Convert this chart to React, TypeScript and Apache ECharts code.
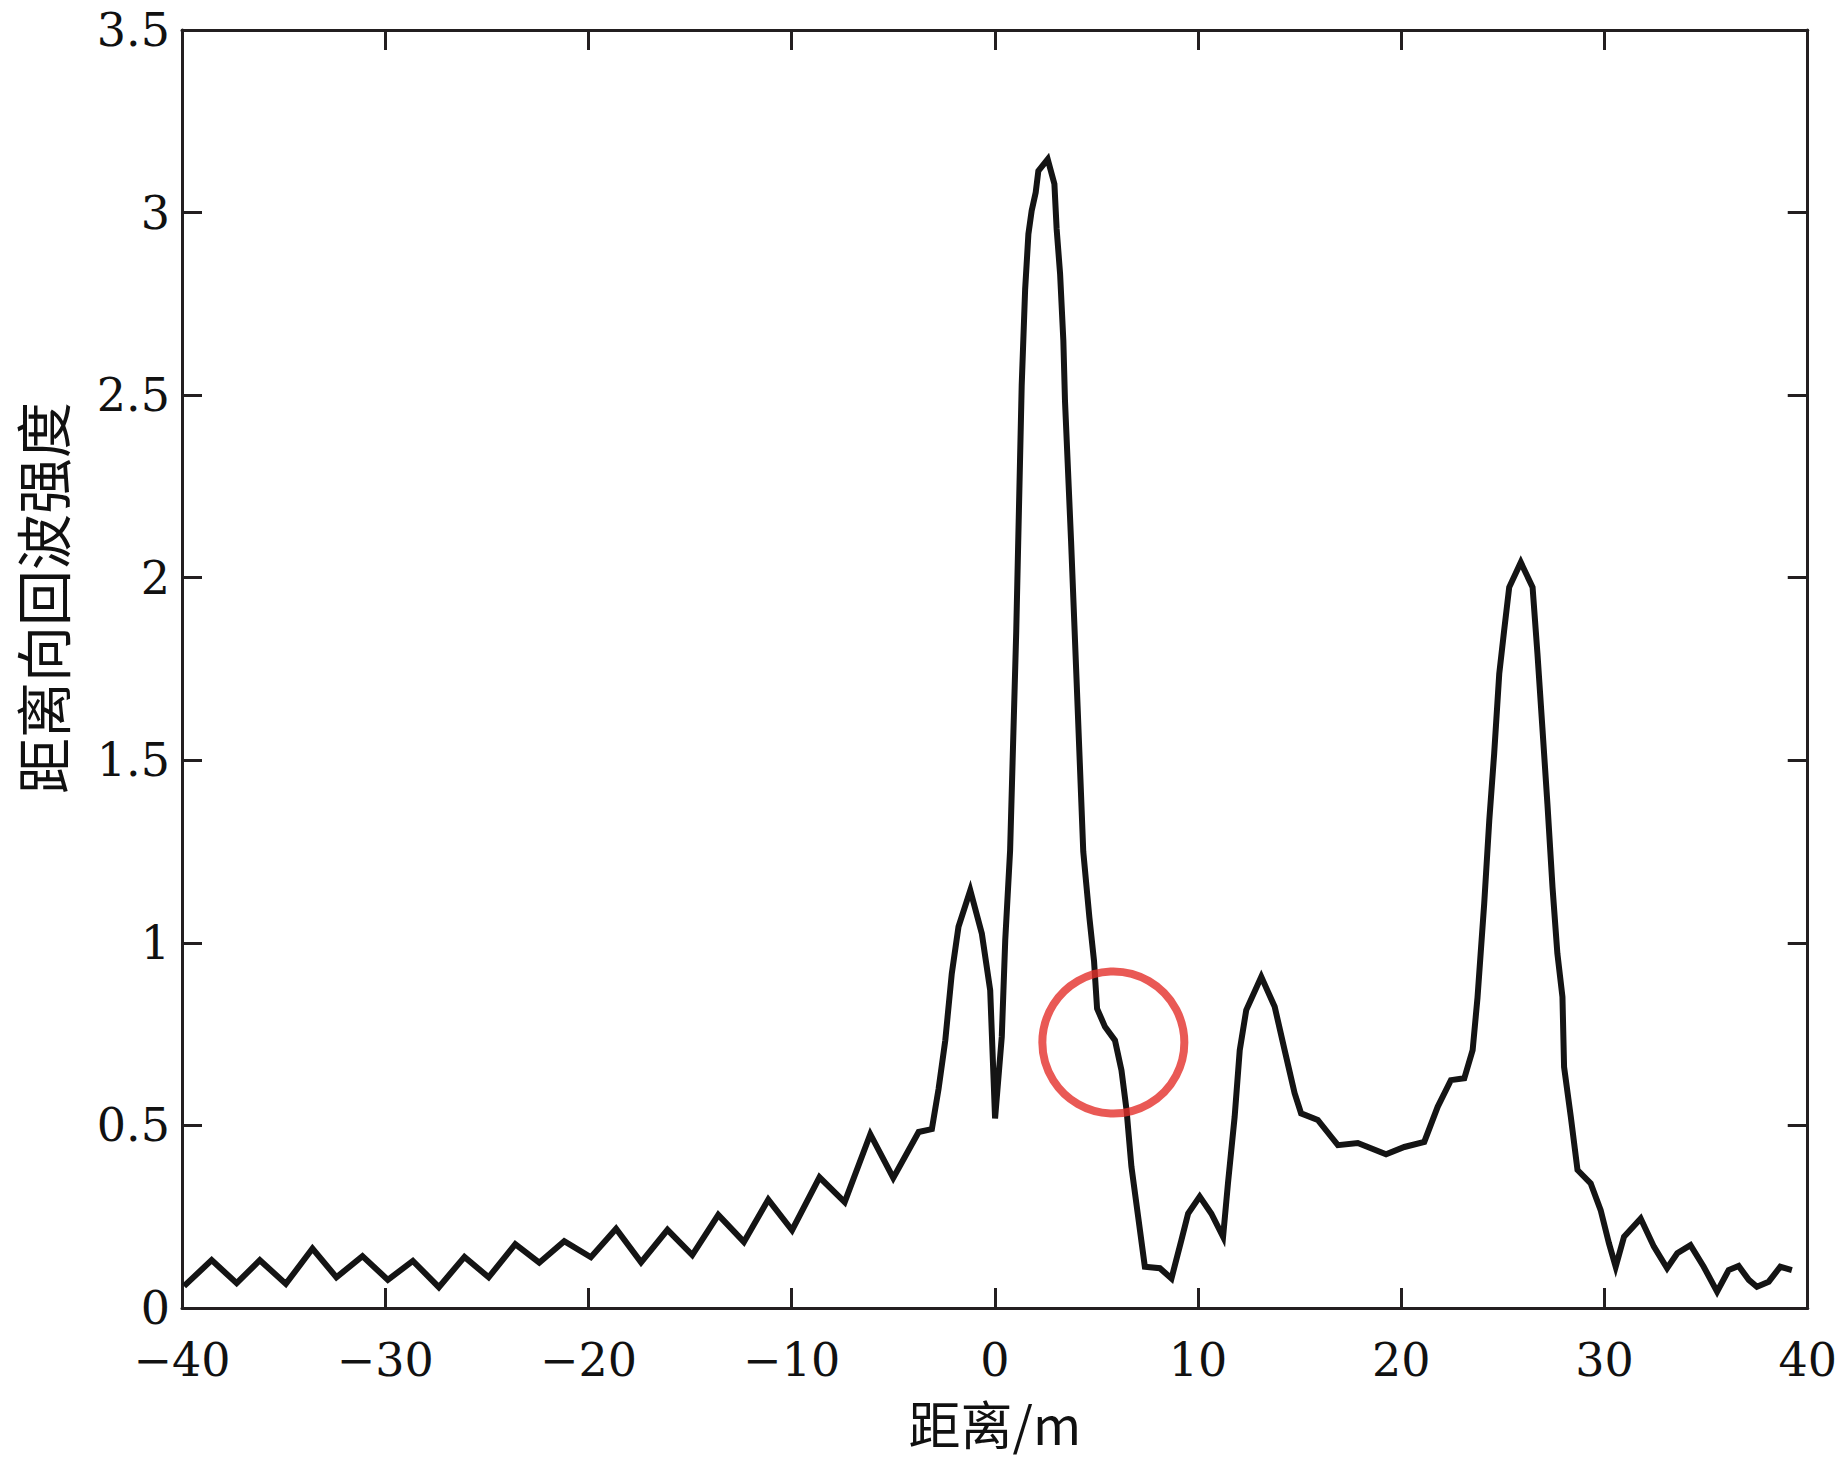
import React, { useEffect, useRef } from "react";
import * as echarts from "echarts";

// Distance (m) along range and echo intensity
const distanceM: number[] = [
  -39.9, -38.54, -37.31, -36.17, -34.89, -33.58, -32.4, -31.12, -29.87, -28.64,
  -27.36, -26.1, -24.91, -23.6, -22.42, -21.19, -19.88, -18.64, -17.41, -16.11,
  -14.89, -13.61, -12.35, -11.15, -9.98, -8.63, -7.39, -6.13, -5.0, -3.75,
  -3.1, -2.77, -2.44, -2.12, -1.79, -1.21, -0.64, -0.23, 0.01, 0.34,
  0.51, 0.75, 1.05, 1.32, 1.49, 1.65, 1.81, 2.01, 2.14, 2.6,
  2.93, 3.04, 3.21, 3.37, 3.45, 3.75, 4.02, 4.35, 4.5, 4.65,
  4.88, 5.03, 5.42, 5.91, 6.23, 6.48, 6.72, 7.05, 7.38, 8.12,
  8.69, 9.18, 9.51, 10.08, 10.65, 11.23, 11.47, 11.8, 12.05, 12.37,
  13.11, 13.77, 14.26, 14.75, 15.07, 15.89, 16.55, 16.88, 17.86, 19.25,
  20.15, 21.13, 21.79, 22.44, 23.1, 23.51, 23.75, 24.08, 24.33, 24.57,
  24.82, 25.06, 25.31, 25.88, 26.46, 26.7, 26.94, 27.19, 27.44, 27.68,
  27.93, 28.01, 28.34, 28.67, 29.32, 29.81, 30.22, 30.55, 30.96, 31.78,
  32.43, 33.08, 33.58, 34.23, 34.88, 35.54, 36.11, 36.6, 37.1, 37.5,
  38.08, 38.65, 39.22,
];

const intensity: number[] = [
  0.06, 0.131, 0.068, 0.131, 0.066, 0.163, 0.084, 0.142, 0.077, 0.129,
  0.057, 0.14, 0.084, 0.175, 0.124, 0.183, 0.139, 0.217, 0.125, 0.214,
  0.145, 0.255, 0.181, 0.297, 0.213, 0.358, 0.29, 0.476, 0.356, 0.482,
  0.49, 0.6, 0.733, 0.916, 1.044, 1.144, 1.025, 0.87, 0.519, 0.743,
  1.007, 1.253, 1.85, 2.526, 2.79, 2.941, 3.005, 3.055, 3.114, 3.146,
  3.078, 2.955, 2.832, 2.649, 2.485, 2.1, 1.72, 1.25, 1.16, 1.07,
  0.95, 0.82, 0.77, 0.733, 0.651, 0.542, 0.387, 0.25, 0.113, 0.109,
  0.081, 0.186, 0.259, 0.305, 0.259, 0.195, 0.341, 0.524, 0.706, 0.816,
  0.907, 0.825, 0.706, 0.588, 0.533, 0.515, 0.469, 0.446, 0.452, 0.421,
  0.441, 0.455, 0.551, 0.624, 0.629, 0.706, 0.85, 1.108, 1.336, 1.518,
  1.737, 1.855, 1.974, 2.042, 1.974, 1.792, 1.591, 1.381, 1.153, 0.971,
  0.852, 0.66, 0.524, 0.378, 0.341, 0.268, 0.177, 0.113, 0.195, 0.245,
  0.168, 0.109, 0.15, 0.172, 0.113, 0.045, 0.104, 0.115, 0.077, 0.058,
  0.072, 0.113, 0.104,
];

// Highlighted spot (red circle annotation) in data coordinates
const highlightPoint: number[] = [5.83, 0.727];

const xRange = { min: -40, max: 40, interval: 10 };
const yRange = { min: 0, max: 3.5, interval: 0.5 };

const xAxisTitle = "距离/m";
const yAxisTitle = "距离向回波强度";

const AXIS_COLOR = "#231f20";
const NUM_FONT = '"DejaVu Serif", "Liberation Serif", serif';
const CJK_FONT = '"Noto Sans CJK SC", sans-serif';

export default function App() {
  const ref = useRef<HTMLDivElement>(null);

  useEffect(() => {
    if (!ref.current) return;
    const chart = echarts.init(ref.current, undefined, { renderer: "svg" });

    const axisLineStyle = { show: true, onZero: false, lineStyle: { color: AXIS_COLOR, width: 3 } };
    const tickStyle = { show: true, inside: true, length: 20, lineStyle: { color: AXIS_COLOR, width: 3 } };

    const fmtX = (v: number) => (v < 0 ? "\u2212" + Math.abs(v) : String(v));

    chart.setOption({
      animation: false,
      backgroundColor: "#ffffff",
      grid: { left: 182, right: 29, top: 30, bottom: 150, containLabel: false },
      xAxis: [
        {
          type: "value",
          min: xRange.min,
          max: xRange.max,
          interval: xRange.interval,
          position: "bottom",
          axisLine: axisLineStyle,
          axisTick: tickStyle,
          splitLine: { show: false },
          axisLabel: {
            formatter: fmtX,
            fontSize: 46,
            fontFamily: NUM_FONT,
            color: "#111",
            margin: 29,
            lineHeight: 46,
          },
          name: xAxisTitle,
          nameLocation: "middle",
          nameGap: 88,
          nameTextStyle: { fontSize: 52, lineHeight: 52, fontFamily: CJK_FONT, color: "#111" },
        },
        {
          type: "value",
          min: xRange.min,
          max: xRange.max,
          interval: xRange.interval,
          position: "top",
          axisLine: axisLineStyle,
          axisTick: tickStyle,
          splitLine: { show: false },
          axisLabel: { show: false },
        },
      ],
      yAxis: [
        {
          type: "value",
          min: yRange.min,
          max: yRange.max,
          interval: yRange.interval,
          position: "left",
          axisLine: axisLineStyle,
          axisTick: tickStyle,
          splitLine: { show: false },
          axisLabel: {
            fontSize: 46,
            lineHeight: 46,
            fontFamily: NUM_FONT,
            color: "#111",
            margin: 12,
          },
        },
        {
          type: "value",
          min: yRange.min,
          max: yRange.max,
          interval: yRange.interval,
          position: "right",
          axisLine: axisLineStyle,
          axisTick: tickStyle,
          splitLine: { show: false },
          axisLabel: { show: false },
        },
      ],
      graphic: [
        {
          type: "text",
          x: 40,
          y: 598,
          rotation: Math.PI / 2,
          style: {
            text: yAxisTitle,
            fontSize: 56,
            lineHeight: 56,
            fontFamily: CJK_FONT,
            fill: "#111",
            align: "center",
            verticalAlign: "middle",
          },
        },
      ],
      series: [
        {
          type: "line",
          xAxisIndex: 0,
          yAxisIndex: 0,
          data: distanceM.map((x, i) => [x, intensity[i]]),
          showSymbol: false,
          symbol: "none",
          lineStyle: { color: "#141414", width: 6, join: "miter" },
          z: 3,
        },
        {
          type: "scatter",
          xAxisIndex: 0,
          yAxisIndex: 0,
          data: [highlightPoint],
          symbol: "circle",
          symbolSize: 142,
          itemStyle: { color: "rgba(0,0,0,0)", borderColor: "#e3302b", borderWidth: 8 },
          z: 4,
          silent: true,
        },
      ],
    });

    return () => chart.dispose();
  }, []);

  return (
    <div
      ref={ref}
      style={{ position: "fixed", left: 0, top: 0, width: 1840, height: 1458, background: "#fff" }}
    />
  );
}
